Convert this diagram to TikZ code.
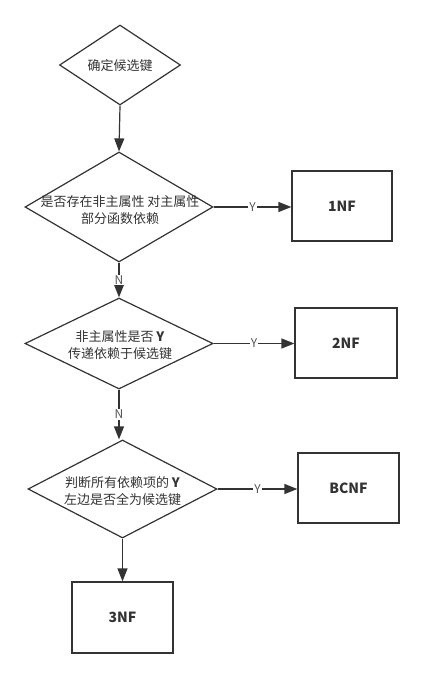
\documentclass[tikz,border=0pt]{standalone}
\usepackage{fontspec}
\setmainfont{Noto Sans CJK SC}
\usetikzlibrary{arrows.meta,shapes.geometric}
\definecolor{ln}{HTML}{333333}
\definecolor{lbl}{HTML}{555555}
\tikzset{
  dia/.style={shape=diamond,draw=ln,line width=1.2pt,inner sep=0pt},
  txt/.style={text=ln,align=center,font=\fontsize{13}{17}\selectfont},
  box/.style={draw=ln,line width=1.2pt,inner sep=0pt,text=ln,font=\fontsize{14}{16}\selectfont\bfseries},
  conn/.style={draw=ln,line width=1.2pt,-{Triangle[length=13pt,width=10pt]}},
  yn/.style={fill=white,inner sep=1pt,text=lbl,font=\fontsize{12}{14}\selectfont}
}
\begin{document}
\begin{tikzpicture}[x=1pt,y=-1pt]
\useasboundingbox[fill=white] (0,0) rectangle (423,677);
\node[dia,minimum width=121pt,minimum height=80pt] (d1) at (120,65) {};
\node[txt] (t1) at (120,66) {确定候选键};
\node[dia,minimum width=188pt,minimum height=110pt] (d2) at (119,207) {};
\node[txt] (t2) at (120,210) {是否存在非主属性 对主属性\\部分函数依赖};
\node[dia,minimum width=188pt,minimum height=91pt] (d3) at (119,343.5) {};
\node[txt] (t3) at (120,345) {非主属性是否 \textbf{Y}\\传递依赖于候选键};
\node[dia,minimum width=189pt,minimum height=98pt] (d4) at (122.5,489) {};
\node[txt] (t4) at (122.5,491) {判断所有依赖项的 \textbf{Y}\\左边是否全为候选键};
\node[box,minimum width=100pt,minimum height=70pt] (b1) at (342,206) {1NF};
\node[box,minimum width=102pt,minimum height=70pt] (b2) at (346,343) {2NF};
\node[box,minimum width=101pt,minimum height=70pt] (b3) at (348.5,488) {BCNF};
\node[box,minimum width=101pt,minimum height=71pt] (b4) at (122.5,617.5) {3NF};
\draw[conn] (d1.south) -- (d2.north);
\draw[conn] (d2.east) -- node[yn] {Y} (d2.east -| b1.west);
\draw[conn] (d2.south) -- node[yn] {N} (d3.north);
\draw[conn] (d3.east) -- node[yn] {Y} (d3.east -| b2.west);
\draw[conn] (d3.south) -- node[yn] {N} (d3.south |- d4.north);
\draw[conn] (d4.east) -- node[yn] {Y} (d4.east -| b3.west);
\draw[conn] (d4.south) -- (b4.north);
\end{tikzpicture}
\end{document}
